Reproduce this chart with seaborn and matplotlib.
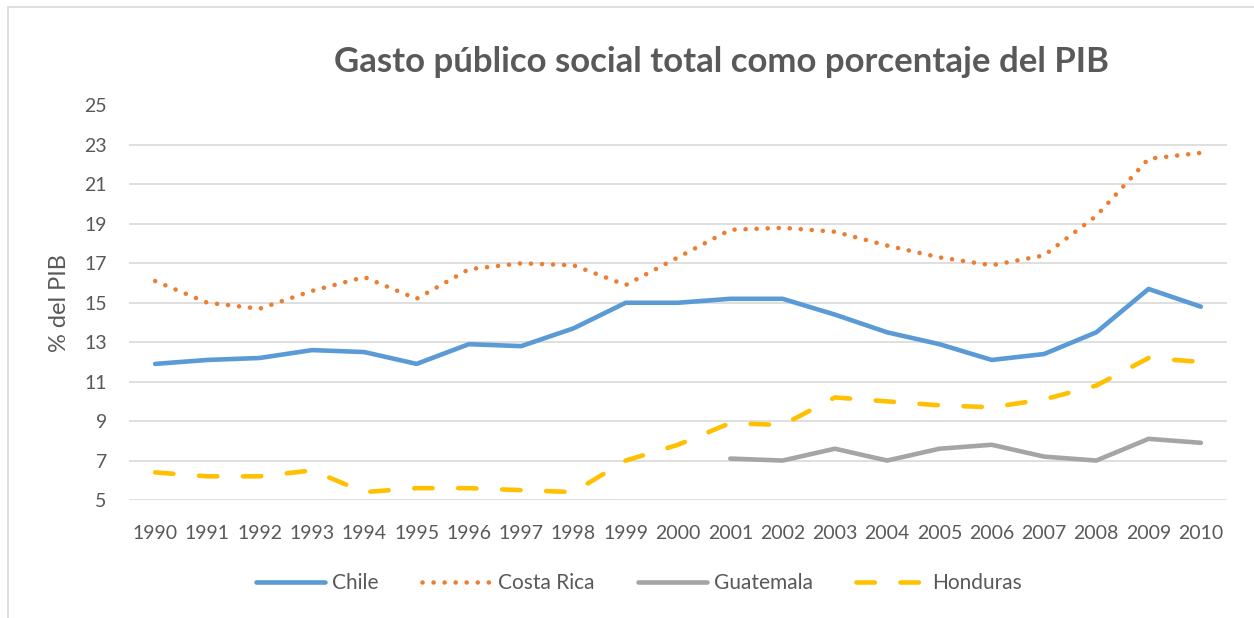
import numpy as np
import pandas as pd
import matplotlib.pyplot as plt
import seaborn as sns
from matplotlib.lines import Line2D
from matplotlib.patches import Rectangle

# data (% of GDP)
years = list(range(1990, 2011))
chile = [11.9, 12.1, 12.2, 12.6, 12.5, 11.9, 12.9, 12.8, 13.7, 15.0, 15.0,
         15.2, 15.2, 14.4, 13.5, 12.9, 12.1, 12.4, 13.5, 15.7, 14.8]
costa_rica = [16.1, 15.0, 14.7, 15.6, 16.3, 15.2, 16.7, 17.0, 16.9, 15.9, 17.3,
              18.7, 18.8, 18.6, 17.9, 17.3, 16.9, 17.4, 19.4, 22.3, 22.6]
guatemala = [np.nan] * 11 + [7.1, 7.0, 7.6, 7.0, 7.6, 7.8, 7.2, 7.0, 8.1, 7.9]
honduras = [6.4, 6.2, 6.2, 6.5, 5.4, 5.6, 5.6, 5.5, 5.4, 7.0, 7.8,
            8.9, 8.8, 10.2, 10.0, 9.8, 9.7, 10.1, 10.8, 12.2, 12.0]

series = {'Chile': chile, 'Costa Rica': costa_rica,
          'Guatemala': guatemala, 'Honduras': honduras}
colors = {'Chile': '#5B9BD5', 'Costa Rica': '#ED7D31',
          'Guatemala': '#A5A5A5', 'Honduras': '#FFC000'}
styles = {'Chile': '-', 'Costa Rica': (0, (0.01, 2.4)),
          'Guatemala': '-', 'Honduras': (0, (4.0, 5.6))}

df = pd.DataFrame({'year': years, **series})
df_long = df.melt(id_vars='year', var_name='pais', value_name='gasto').dropna()

sns.set_style('white')
plt.rcParams['font.family'] = ['Lato', 'DejaVu Sans']
text_color = '#595959'

fig = plt.figure(figsize=(12.54, 6.18), dpi=100)
ax = fig.add_axes([129 / 1254, 1 - 500 / 618, 1098 / 1254, 394.5 / 618])

lw = 3.3
for name in series:
    sub = df_long[df_long['pais'] == name]
    line_ax = sns.lineplot(data=sub, x='year', y='gasto', ax=ax, color=colors[name],
                           linewidth=lw, label=None, legend=False)
    ln = line_ax.get_lines()[-1]
    ln.set_linestyle(styles[name])
    ln.set_dash_capstyle('round')
    ln.set_solid_capstyle('round')
    ln.set_solid_joinstyle('round')

ax.set_xlim(1989.5, 2010.5)
ax.set_ylim(5, 25)
ax.set_yticks(range(5, 26, 2))
ax.set_xticks(years)
ax.set_xticklabels([str(y) for y in years])
ax.tick_params(axis='both', length=0, labelsize=14, labelcolor=text_color)
ax.tick_params(axis='y', pad=16)
ax.tick_params(axis='x', pad=18)
ax.grid(axis='y', color='#D9D9D9', linewidth=1.2)
ax.set_axisbelow(True)
for s in ax.spines.values():
    s.set_visible(False)

ax.set_xlabel('')
ax.set_ylabel('% del PIB', fontsize=17, color=text_color, labelpad=10)

fig.text(722 / 1254, 1 - 62 / 618, 'Gasto público social total como porcentaje del PIB',
         ha='center', va='center', fontsize=25, fontweight='bold', color=text_color)

handles = [Line2D([0], [0], color=colors[n], linewidth=lw, linestyle=styles[n],
                  dash_capstyle='round', solid_capstyle='round') for n in series]
fig.legend(handles, list(series.keys()), loc='center', bbox_to_anchor=(639 / 1254, 1 - 583 / 618),
           ncol=4, frameon=False, fontsize=15, handlelength=3.3, handletextpad=0.33,
           columnspacing=2.1, labelcolor=text_color)

fig.patches.append(Rectangle((8 / 1254, -0.05), 1.1, 1 - 7 / 618 + 0.05, transform=fig.transFigure,
                             fill=False, edgecolor='#D9D9D9', linewidth=1.2))

fig.savefig('out.png', dpi=100)
plt.close(fig)
